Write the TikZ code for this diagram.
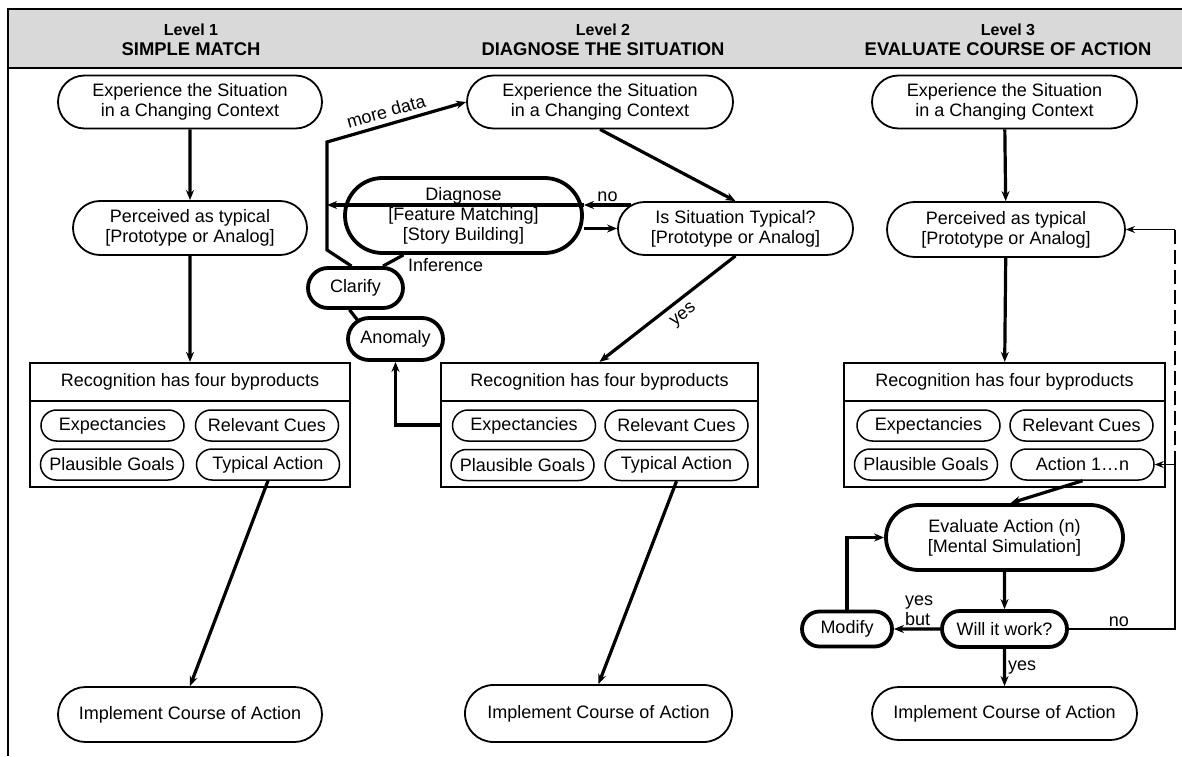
\documentclass[tikz,border=0pt]{standalone}
\usepackage{fontspec}
\setmainfont{Liberation Sans}
\usetikzlibrary{arrows.meta,shapes.misc}
\definecolor{band}{RGB}{217,217,217}

\begin{document}
\begin{tikzpicture}[x=1pt,y=1pt,font=\fontsize{18}{20}\selectfont,
  pill/.style={draw,rounded rectangle,line width=1.8pt,align=center,inner sep=0pt},
  hvy/.style={pill,line width=3.8pt},
  sub/.style={pill,line width=1.5pt,minimum width=143pt,minimum height=31pt},
  recbox/.style={draw,line width=2.2pt,minimum width=#1,minimum height=124pt,inner sep=0pt},
  rectitle/.style={draw,line width=2.2pt,minimum width=#1,minimum height=38pt,inner sep=0pt},
  ed/.style={-{Stealth[length=10pt,width=8pt]},line width=3.2pt},
  edt/.style={-{Stealth[length=9pt,width=7pt]},line width=1.4pt},
  ln/.style={line width=3.2pt},
  hd/.style={font=\fontsize{16}{18}\selectfont\bfseries},
  ttl/.style={font=\fontsize{18.4}{20}\selectfont\bfseries},
  lbl/.style={inner sep=2pt}]
\useasboundingbox (0,0) rectangle (1182,756);
\fill[band] (8,688) rectangle (1182,747);
\draw[line width=1.2pt] (1182,747) -- (8,747) -- (8,0);
\draw[line width=2.2pt] (8,688) -- (1182,688);
\node[hd] (lv1) at (191,726) {Level 1};
\node[ttl] (t1) at (191,707) {SIMPLE MATCH};
\node[hd] (lv2) at (603,726) {Level 2};
\node[ttl] (t2) at (603,707) {DIAGNOSE THE SITUATION};
\node[hd] (lv3) at (1008,726) {Level 3};
\node[ttl] (t3) at (1008,707) {EVALUATE COURSE OF ACTION};
% level 1
\node[pill,minimum width=264pt,minimum height=53pt] (exp1) at (190,654)
  {Experience the Situation\\in a Changing Context};
\node[pill,minimum width=234pt,minimum height=54pt] (per1) at (190,528)
  {Perceived as typical\\{[Prototype or Analog]}};
\node[recbox=320pt] (rec1) at (190,331) {};
\node[rectitle=320pt,anchor=north] (rec1t) at (rec1.north) {Recognition has four byproducts};
\node[sub] (ex1) at (112.5,330.5) {Expectancies};
\node[sub] (rc1) at (267,330.5) {Relevant Cues};
\node[sub] (pg1) at (112,291.5) {Plausible Goals};
\node[sub] (ta1) at (268,291.5) {Typical Action};
\node[pill,minimum width=264pt,minimum height=55pt] (impl1) at (190,41.5) {Implement Course of Action};
% level 2
\node[pill,minimum width=266pt,minimum height=53pt] (exp2) at (600,654)
  {Experience the Situation\\in a Changing Context};
\node[hvy,minimum width=237pt,minimum height=75pt] (diag) at (463.5,540.5)
  {Diagnose\\{[Feature Matching]}\\{[Story Building]}};
\node[pill,minimum width=235pt,minimum height=53pt] (sit) at (735.5,527.5)
  {Is Situation Typical?\\{[Prototype or Analog]}};
\node[hvy,minimum width=95pt,minimum height=40pt] (clar) at (355.5,468) {Clarify};
\node[hvy,minimum width=95pt,minimum height=42pt] (anom) at (395.5,417) {Anomaly};
\node[recbox=317pt] (rec2) at (599.5,331) {};
\node[rectitle=317pt,anchor=north] (rec2t) at (rec2.north) {Recognition has four byproducts};
\node[sub] (ex2) at (524,330.5) {Expectancies};
\node[sub] (rc2) at (676.5,330.5) {Relevant Cues};
\node[sub] (pg2) at (522.5,291) {Plausible Goals};
\node[sub] (ta2) at (676.5,291) {Typical Action};
\node[pill,minimum width=267pt,minimum height=57pt] (impl2) at (598.5,42.5) {Implement Course of Action};
% level 3
\node[pill,minimum width=265pt,minimum height=53pt] (exp3) at (1004.5,654)
  {Experience the Situation\\in a Changing Context};
\node[pill,minimum width=238pt,minimum height=55pt] (per3) at (1006,526.5)
  {Perceived as typical\\{[Prototype or Analog]}};
\node[recbox=321pt] (rec3) at (1004.5,331) {};
\node[rectitle=321pt,anchor=north] (rec3t) at (rec3.north) {Recognition has four byproducts};
\node[sub] (ex3) at (928.5,330.5) {Expectancies};
\node[sub] (rc3) at (1081.5,330.5) {Relevant Cues};
\node[sub] (pg3) at (926,291.5) {Plausible Goals};
\node[sub] (act) at (1082.5,291.5) {Action 1\dots n};
\node[hvy,minimum width=237pt,minimum height=65pt] (eval) at (1004.5,218.5)
  {Evaluate Action (n)\\{[Mental Simulation]}};
\node[hvy,minimum width=125pt,minimum height=36pt] (will) at (1004.5,127) {Will it work?};
\node[hvy,minimum width=90pt,minimum height=35pt] (mod) at (847,127) {Modify};
\node[pill,minimum width=265pt,minimum height=53pt] (impl3) at (1004.5,42.5) {Implement Course of Action};
\coordinate (lpt) at (327,614);
\coordinate (lpb) at (327,506);
\coordinate (nost) at ([shift={(14,23.5)}]sit.west);
\coordinate (rgt) at (1175,127);
\coordinate (rgm) at (1175,291.5);
\coordinate (rgu) at (1175,526.5);
\draw[ed] (exp1) -- (per1);
\draw[ed] (per1) -- (rec1t);
\draw[ed] (ta1.south) -- (impl1.north);
\draw[ed] (exp2.south) -- (sit.north);
\draw[ed] (nost) -- node[lbl,above,pos=.5]{no} (nost -| diag.east);
\draw[ed] (nost -| diag.east) -- (nost -| lpt);
\draw[ed] (diag.east |- sit.west) -- (sit.west);
\draw[ed] ([xshift=-4pt]clar.north) -- (lpb) -- (lpt)
  -- node[lbl,above=3pt,sloped,pos=.45]{more data} (exp2.west);
\draw[ln] ([xshift=-60pt]diag.south) -- node[lbl,below right,pos=0,xshift=1pt]{Inference} (clar.north east);
\draw[ln] ([xshift=-6pt]clar.south) -- ([shift={(-38,-4)}]anom.north);
\draw[ed] (rec2.west) -| (anom.south);
\draw[ed] (sit.south) -- node[lbl,below=5pt,sloped,pos=.45]{yes} (rec2t.north);
\draw[ed] (ta2.south) -- (impl2.north);
\draw[ed] (exp3) -- (per3);
\draw[ed] (per3) -- (rec3t);
\draw[ed] (act.south) -- ([xshift=6pt]eval.north);
\draw[ed] (eval) -- (will);
\draw[ed] (will) -- node[lbl,above,align=left,xshift=2pt]{yes\\but} (mod);
\draw[ed] (mod.north) |- (eval.west);
\draw[ed] (will) -- node[lbl,right]{yes} (impl3);
\draw[line width=1.4pt] (will.east) -- node[lbl,above,pos=.47]{no} (rgt) -- (rgm);
\draw[edt] (rgm) -- (act.east);
\draw[line width=1.8pt,dash pattern=on 14pt off 6pt] (rgm) -- (rgu);
\draw[edt] (rgu) -- (per3.east);
\end{tikzpicture}
\end{document}
